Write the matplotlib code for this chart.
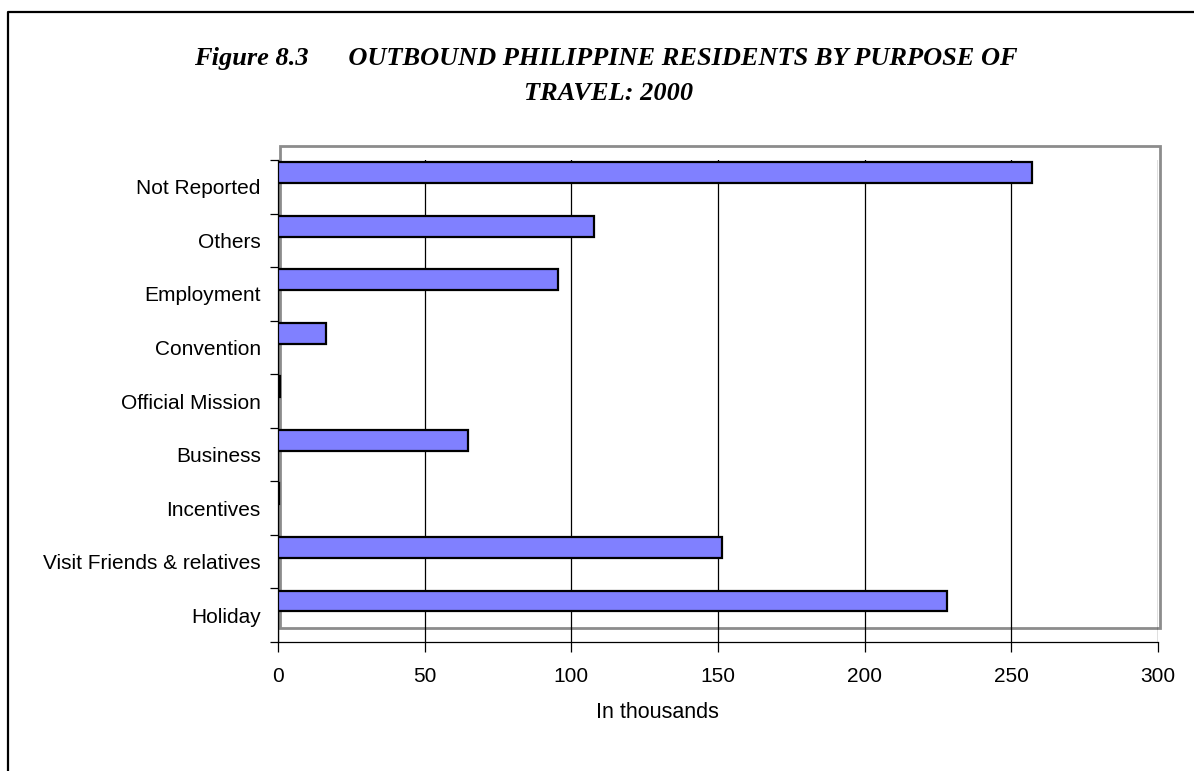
import matplotlib
matplotlib.use("Agg")
from matplotlib import pyplot as plt
from matplotlib.patches import Rectangle
from matplotlib.lines import Line2D
import numpy as np

# data, bottom to top
categories = ["Holiday", "Visit Friends & relatives", "Incentives", "Business",
              "Official Mission", "Convention", "Employment", "Others", "Not Reported"]
values = [228.2, 151.5, 0.5, 64.8, 0.7, 16.5, 95.6, 107.8, 257.2]
x_ticks = [0, 50, 100, 150, 200, 250, 300]

W, H = 1194, 771
fig = plt.figure(figsize=(W / 100, H / 100), dpi=100)

def fx(px):
    return px / W

def fy(py):
    return 1 - py / H

# outer frame (top and left only visible)
fig.add_artist(Line2D([fx(8), fx(8), fx(1194)], [fy(771), fy(12), fy(12)],
                      transform=fig.transFigure, color="black", lw=1.6))

# grey plot-area box
fig.add_artist(Rectangle((fx(280), fy(628)), fx(1160) - fx(280), fy(146) - fy(628),
                         transform=fig.transFigure, fill=False,
                         edgecolor="#8c8c8c", lw=2.0, zorder=0))

ax = fig.add_axes([fx(278), fy(642), fx(1158) - fx(278), fy(160) - fy(642)])
ax.patch.set_alpha(0)

pos = np.arange(len(categories))
ax.barh(pos + 0.57, values, height=0.39, align="edge",
        color="#8080FF", edgecolor="black", linewidth=1.6, zorder=3)

ax.set_xlim(0, 300)
ax.set_ylim(0, len(categories))
ax.set_xticks(x_ticks)
ax.set_xticklabels([str(t) for t in x_ticks], fontsize=15, family="Liberation Sans")
ax.grid(axis="x", color="black", lw=0.9, zorder=1)

ax.set_yticks(pos + 0.5)
ax.set_yticklabels(categories, fontsize=15, family="Liberation Sans")
ax.set_yticks(np.arange(len(categories) + 1), minor=True)
ax.tick_params(axis="y", which="major", length=0, pad=12.5)
ax.tick_params(axis="y", which="minor", length=6, width=0.9, direction="out")
ax.tick_params(axis="x", which="major", length=7, width=0.9, direction="out", pad=11)

for s in ["top", "right"]:
    ax.spines[s].set_visible(False)
for s in ["left", "bottom"]:
    ax.spines[s].set_linewidth(0.9)

fig.text(fx(657), fy(712), "In thousands", ha="center", va="center",
         fontsize=15.5, family="Liberation Sans")

title_kw = dict(ha="center", va="center", fontsize=19, family="Liberation Serif",
                weight="bold", style="italic")
fig.text(fx(606), fy(58), "Figure 8.3      OUTBOUND PHILIPPINE RESIDENTS BY PURPOSE OF", **title_kw)
fig.text(fx(609), fy(94), "TRAVEL: 2000", **title_kw)

fig.savefig("out.png", dpi=100)
